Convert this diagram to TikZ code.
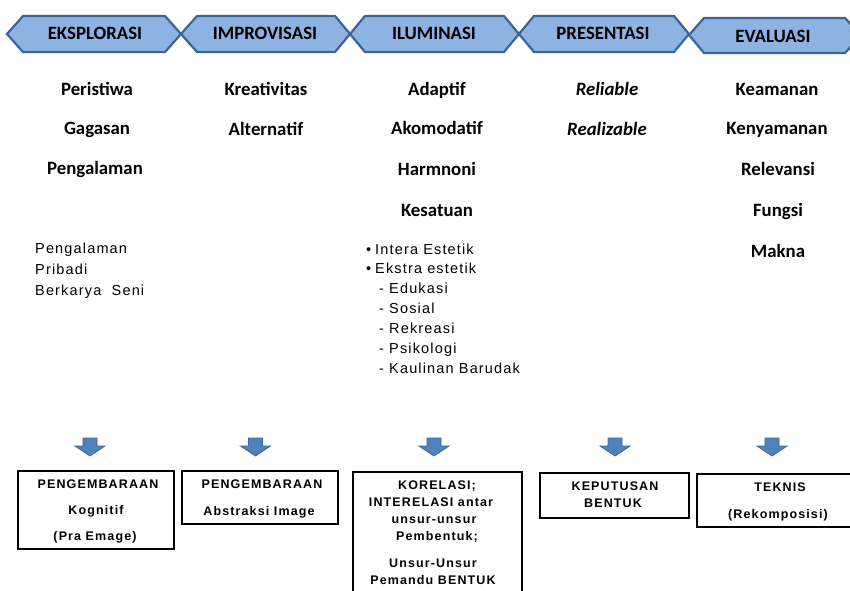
\documentclass[tikz,border=0pt]{standalone}
\usepackage{fontspec}
\setmainfont{Carlito}
\newfontfamily\arialls[LetterSpace=8]{Liberation Sans}
\newfontfamily\arialbx[LetterSpace=9]{Liberation Sans}
\definecolor{chevfill}{HTML}{8DB3E2}
\definecolor{chevline}{HTML}{3C6494}
\definecolor{arrfill}{HTML}{4F81BD}
\definecolor{arrline}{HTML}{3A6899}
\begin{document}
\begin{tikzpicture}[x=1pt,y=-1pt,
  chev/.style={fill=chevfill,draw=chevline,line width=2.2pt,line join=miter},
  head/.style={font=\fontsize{18.8}{21}\selectfont\bfseries,inner sep=0pt,text height=12pt,text depth=0pt},
  headit/.style={head,font=\fontsize{18.8}{21}\selectfont\bfseries\itshape},
  listtxt/.style={font=\arialls\fontsize{14.5}{16}\selectfont,inner sep=0pt,anchor=west,text height=10.4pt,text depth=0pt},
  boxframe/.style={draw=black,line width=2pt,anchor=north west,inner sep=0pt},
  boxtxt/.style={font=\arialbx\fontsize{12.5}{14}\selectfont\bfseries,inner sep=0pt,text height=9pt,text depth=0pt},
  downarr/.pic={\draw[fill=arrfill,draw=arrline,line width=0.8pt,line join=miter]
     (-7,-9) -- (7,-9) -- (7,-1) -- (15,-1) -- (0,9) -- (-15,-1) -- (-7,-1) -- cycle;}
]
\useasboundingbox (0,0) rectangle (850,590);
\fill[white] (0,0) rectangle (850,590);

% chevrons
\draw[chev] (7,34) -- (23,16) -- (165,16) -- (181,34) -- (165,52) -- (23,52) -- cycle;
\draw[chev] (181,34) -- (197,16) -- (335,16) -- (350,34) -- (335,52) -- (197,52) -- cycle;
\draw[chev] (350,34) -- (365,16) -- (504,16) -- (519,34) -- (504,52) -- (365,52) -- cycle;
\draw[chev] (519,34) -- (534,16) -- (674,16) -- (689,34) -- (674,52) -- (534,52) -- cycle;
\draw[chev] (689,35) -- (704,18) -- (845,18) -- (861,35.5) -- (845,53) -- (704,53) -- cycle;

\node[head] (c1) at (95,33) {EKSPLORASI};
\node[head] (c2) at (265,33) {IMPROVISASI};
\node[head] (c3) at (434,33) {ILUMINASI};
\node[head] (c4) at (603,33) {PRESENTASI};
\node[head] (c5) at (773,36) {EVALUASI};

% column 1
\node[head] (p1) at (97,89) {Peristiwa};
\node[head] (p2) at (97,128) {Gagasan};
\node[head] (p3) at (95,168) {Pengalaman};
\node[listtxt] (q1) at (35,248) {Pengalaman};
\node[listtxt] (q2) at (35,269) {Pribadi};
\node[listtxt] (q3) at (35,290) {Berkarya\ \ Seni};

% column 2
\node[head] (i1) at (266,89) {Kreativitas};
\node[head] (i2) at (266,129) {Alternatif};

% column 3
\node[head] (u1) at (437,89) {Adaptif};
\node[head] (u2) at (437,128) {Akomodatif};
\node[head] (u3) at (437,169) {Harmnoni};
\node[head] (u4) at (437,210) {Kesatuan};
\node[listtxt] (v1b) at (366,249) {•};
\node[listtxt] (v1) at (375,249) {Intera Estetik};
\node[listtxt] (v2b) at (366,268) {•};
\node[listtxt] (v2) at (375,268) {Ekstra estetik};
\node[listtxt] (v3) at (379,288) {- Edukasi};
\node[listtxt] (v4) at (379,308) {- Sosial};
\node[listtxt] (v5) at (379,328) {- Rekreasi};
\node[listtxt] (v6) at (379,348) {- Psikologi};
\node[listtxt] (v7) at (379,368) {- Kaulinan Barudak};

% column 4
\node[headit] (r1) at (607,89) {Reliable};
\node[headit] (r2) at (607,129) {Realizable};

% column 5
\node[head] (e1) at (777,89) {Keamanan};
\node[head] (e2) at (777,128) {Kenyamanan};
\node[head] (e3) at (778,169) {Relevansi};
\node[head] (e4) at (778,210) {Fungsi};
\node[head] (e5) at (778,251) {Makna};

% down arrows
\pic (a1) at (90,447) {downarr};
\pic (a2) at (255.5,447) {downarr};
\pic (a3) at (434,447) {downarr};
\pic (a4) at (615,447) {downarr};
\pic (a5) at (772,447) {downarr};

% boxes
\node[boxframe,minimum width=156pt,minimum height=78pt] (b1) at (17,470) {};
\node[boxframe,minimum width=156pt,minimum height=53pt] (b2) at (181,470) {};
\draw[line width=2pt] (353,600) -- (353,472) -- (522,472) -- (522,600);
\coordinate (b3) at (437,472);
\node[boxframe,minimum width=149pt,minimum height=45pt] (b4) at (539,472) {};
\node[boxframe,minimum width=170pt,minimum height=53pt] (b5) at (696,473) {};

\node[boxtxt] (t11) at (98,484) {PENGEMBARAAN};
\node[boxtxt] (t12) at (96,510) {Kognitif};
\node[boxtxt] (t13) at (95,536) {(Pra Emage)};

\node[boxtxt] (t21) at (262,484) {PENGEMBARAAN};
\node[boxtxt] (t22) at (259,511) {Abstraksi Image};

\node[boxtxt] (t31) at (437,485) {KORELASI;};
\node[boxtxt] (t32) at (431,502) {INTERELASI antar};
\node[boxtxt] (t33) at (434,519) {unsur-unsur};
\node[boxtxt] (t34) at (437,536) {Pembentuk;};
\node[boxtxt] (t35) at (433,563) {Unsur-Unsur};
\node[boxtxt] (t36) at (433,580) {Pemandu BENTUK};

\node[boxtxt] (t41) at (615,486) {KEPUTUSAN};
\node[boxtxt] (t42) at (613,503) {BENTUK};

\node[boxtxt] (t51) at (780,487) {TEKNIS};
\node[boxtxt] (t52) at (778,514) {(Rekomposisi)};
\end{tikzpicture}
\end{document}
